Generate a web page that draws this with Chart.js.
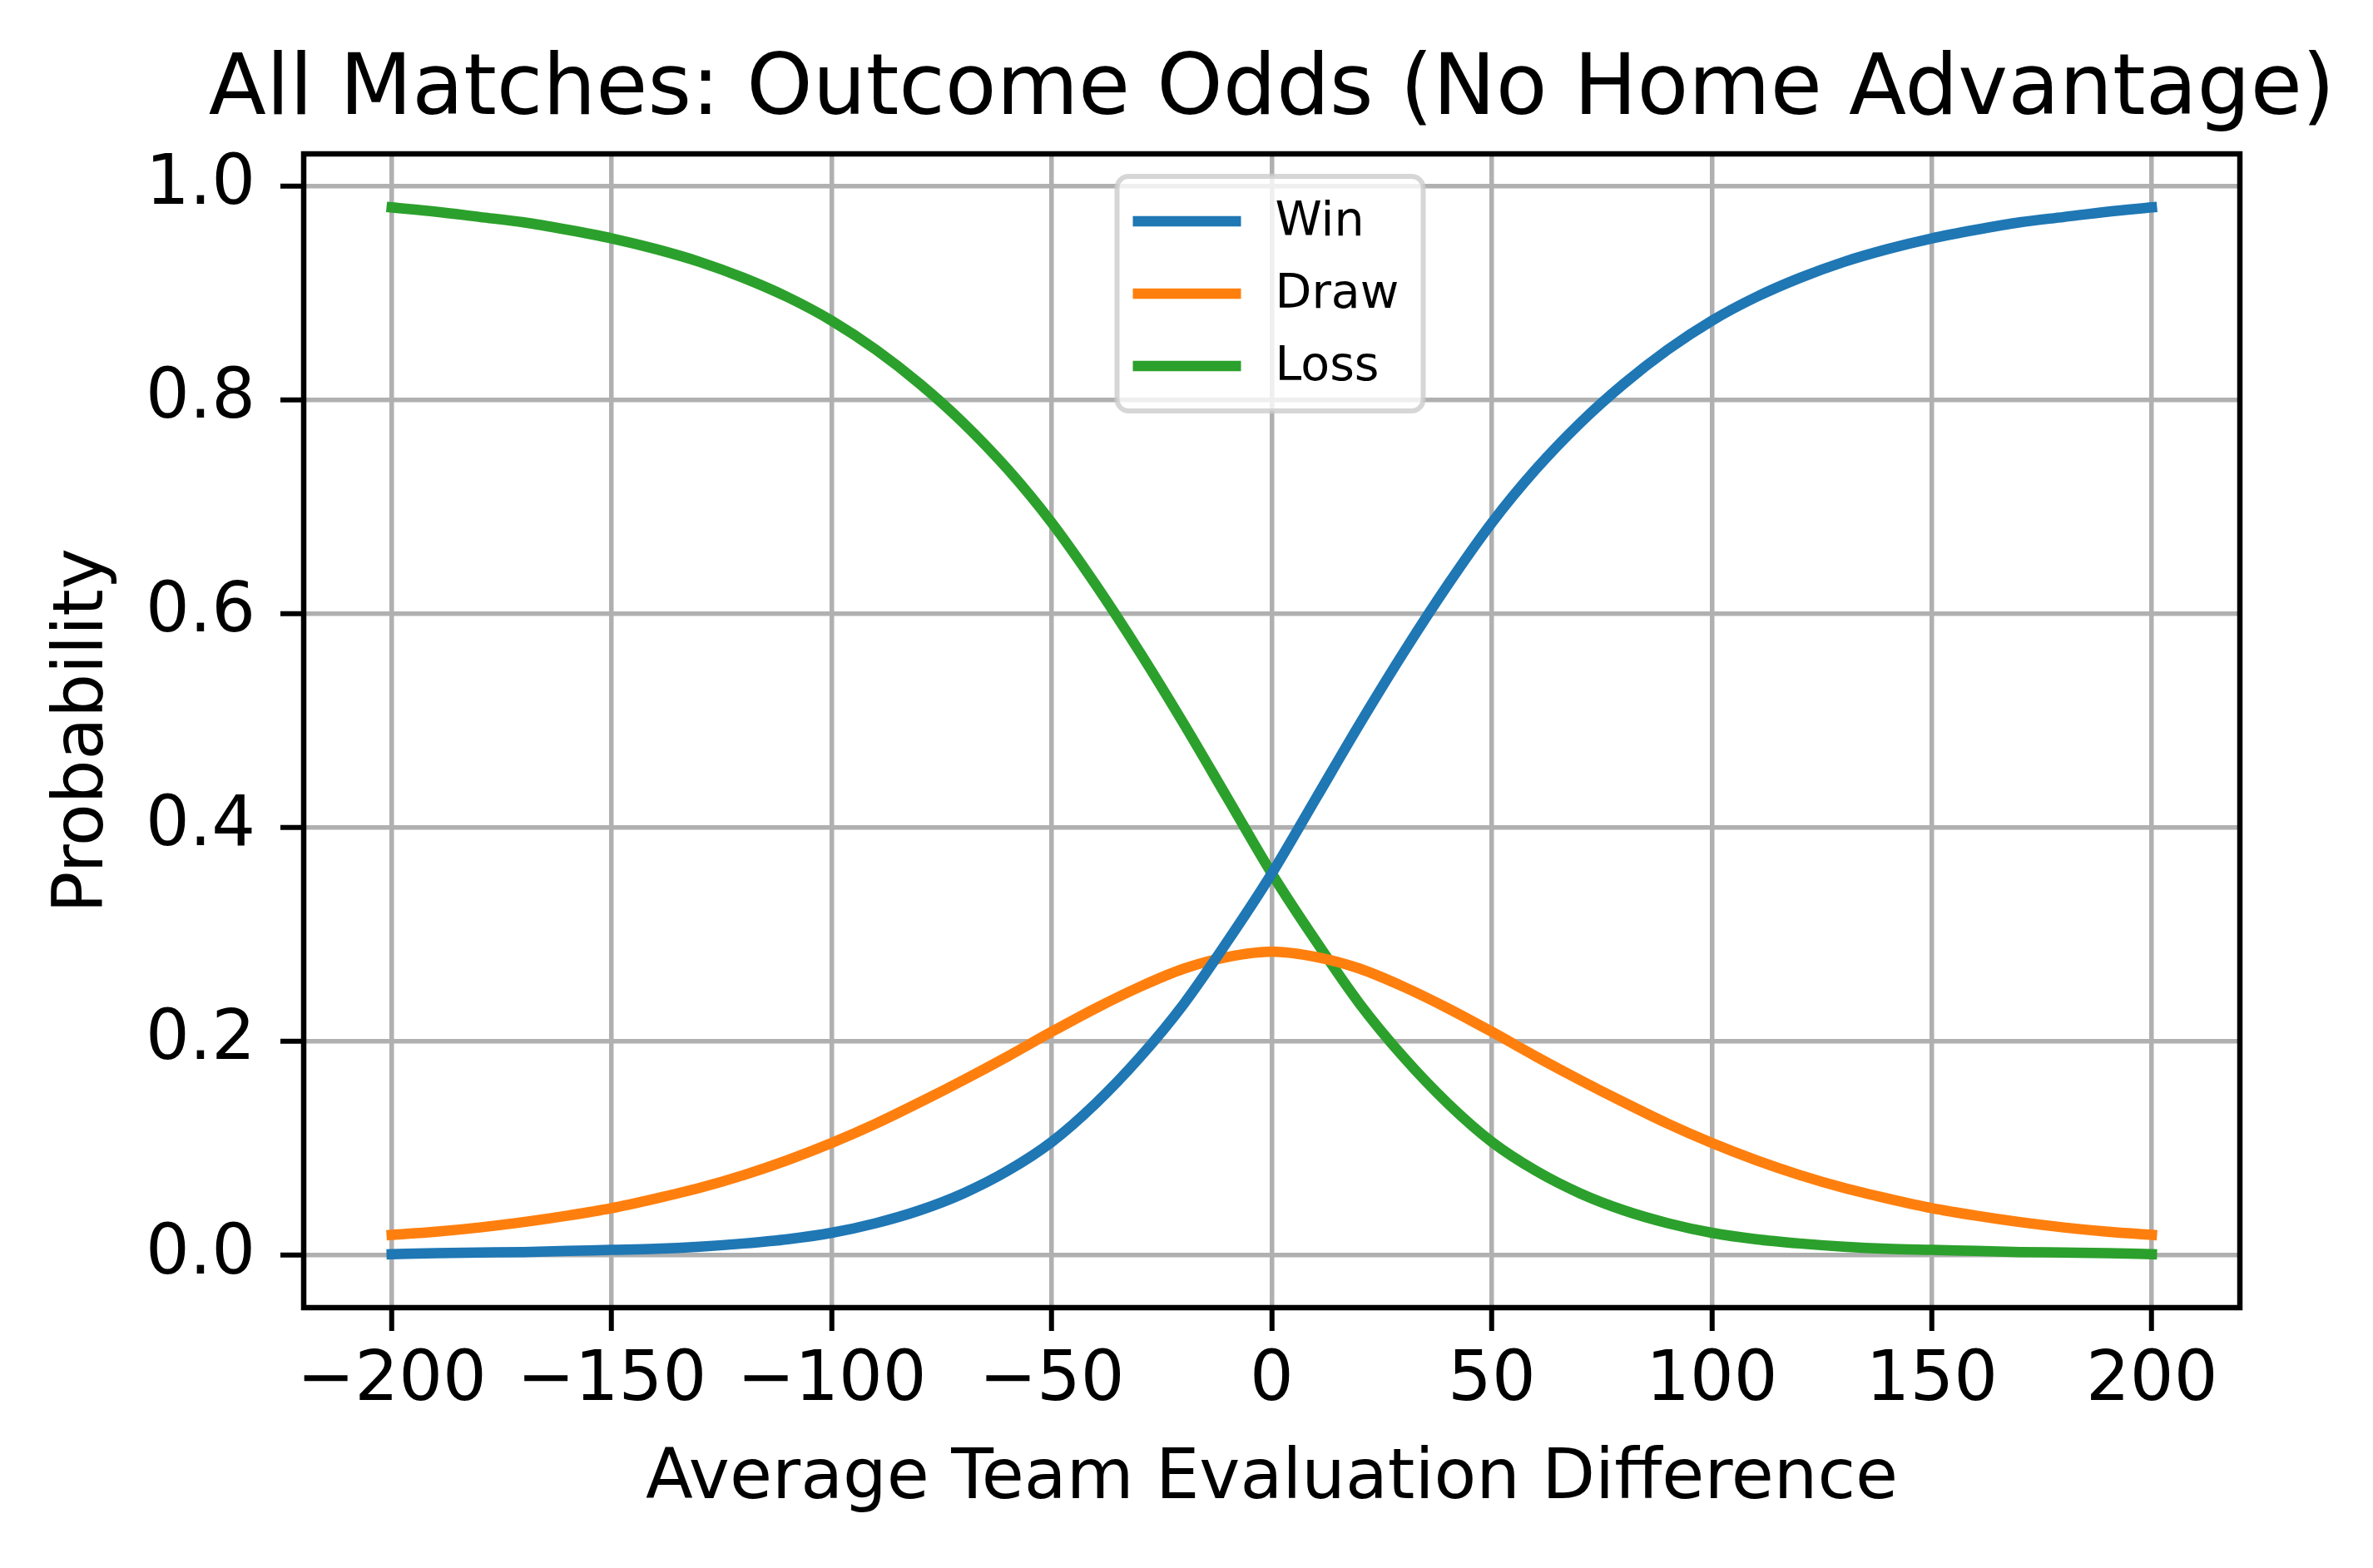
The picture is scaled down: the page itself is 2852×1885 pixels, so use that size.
<!DOCTYPE html>
<html>
<head>
<meta charset="utf-8">
<script src="https://cdn.jsdelivr.net/npm/chart.js@4.4.1/dist/chart.umd.min.js"></script>
<style>
  html, body { margin: 0; padding: 0; background: #fff; }
  canvas { display: block; }
</style>
</head>
<body>
<canvas id="oddsChart" width="2852" height="1885"></canvas>
<script>
// evaluation difference, step 10
var diffs = [-200, -190, -180, -170, -160, -150, -140, -130, -120, -110, -100, -90, -80, -70, -60, -50, -40, -30, -20, -10,
  0, 10, 20, 30, 40, 50, 60, 70, 80, 90, 100, 110, 120, 130, 140, 150, 160, 170, 180, 190, 200];

var winProb = [0.001, 0.002, 0.0025, 0.003, 0.004, 0.005, 0.006, 0.008, 0.011, 0.015, 0.021, 0.030, 0.042, 0.058, 0.079, 0.106, 0.142, 0.185, 0.235, 0.294,
  0.357, 0.427, 0.497, 0.564, 0.627, 0.685, 0.735, 0.778, 0.815, 0.847, 0.874, 0.896, 0.914, 0.929, 0.941, 0.951, 0.959, 0.966, 0.971, 0.976, 0.980];

var drawProb = [0.019, 0.022, 0.026, 0.031, 0.037, 0.044, 0.053, 0.063, 0.075, 0.089, 0.105, 0.123, 0.143, 0.164, 0.186, 0.209, 0.231, 0.251, 0.268, 0.279,
  0.284, 0.279, 0.268, 0.251, 0.231, 0.209, 0.186, 0.164, 0.143, 0.123, 0.105, 0.089, 0.075, 0.063, 0.053, 0.044, 0.037, 0.031, 0.026, 0.022, 0.019];

var lossProb = [0.980, 0.976, 0.971, 0.966, 0.959, 0.951, 0.941, 0.929, 0.914, 0.896, 0.874, 0.847, 0.815, 0.778, 0.735, 0.685, 0.627, 0.564, 0.497, 0.427,
  0.357, 0.294, 0.235, 0.185, 0.142, 0.106, 0.079, 0.058, 0.042, 0.030, 0.021, 0.015, 0.011, 0.008, 0.006, 0.005, 0.004, 0.003, 0.0025, 0.002, 0.001];

var xTicks = [-200, -150, -100, -50, 0, 50, 100, 150, 200];
var xTickLabels = ['\u2212200', '\u2212150', '\u2212100', '\u221250', '0', '50', '100', '150', '200'];
var yTicks = [0, 0.2, 0.4, 0.6, 0.8, 1.0];
var yTickLabels = ['0.0', '0.2', '0.4', '0.6', '0.8', '1.0'];

var chartTitle = 'All Matches: Outcome Odds (No Home Advantage)';

function toPoints(ys) {
  return diffs.map(function (x, i) { return {x: x, y: ys[i]}; });
}

Chart.defaults.font.family = "'DejaVu Sans'";
Chart.defaults.color = '#000';

// title centred over the axes, not squeezed to fit
var axesTitle = {
  id: 'axesTitle',
  afterDraw: function (chart) {
    var a = chart.chartArea, ctx = chart.ctx;
    ctx.save();
    ctx.font = "101px 'DejaVu Sans'";
    ctx.fillStyle = '#000';
    ctx.textAlign = 'center';
    ctx.textBaseline = 'alphabetic';
    ctx.fillText(chartTitle, (a.left + a.right) / 2, a.top - 48);
    ctx.restore();
  }
};

// matplotlib style box around the axes
var framePlugin = {
  id: 'frame',
  afterDatasetsDraw: function (chart) {
    var a = chart.chartArea, ctx = chart.ctx;
    ctx.save();
    ctx.strokeStyle = '#000';
    ctx.lineWidth = 6.5;
    ctx.strokeRect(a.left, a.top, a.right - a.left, a.bottom - a.top);
    ctx.restore();
  }
};

// legend box, upper center inside the axes
var boxLegend = {
  id: 'boxLegend',
  afterDraw: function (chart) {
    var a = chart.chartArea, ctx = chart.ctx;
    var cx = (a.left + a.right) / 2;
    var left = cx - 186, top = a.top + 27, w = 368, h = 282;
    ctx.save();
    ctx.beginPath();
    ctx.roundRect(left, top, w, h, 14);
    ctx.fillStyle = 'rgba(255,255,255,0.8)';
    ctx.fill();
    ctx.lineWidth = 6;
    ctx.strokeStyle = 'rgba(204,204,204,0.8)';
    ctx.stroke();
    ctx.font = "57px 'DejaVu Sans'";
    ctx.textBaseline = 'middle';
    ctx.fillStyle = '#000';
    chart.data.datasets.forEach(function (ds, i) {
      var y = top + 54 + i * 87;
      ctx.beginPath();
      ctx.moveTo(cx - 167, y);
      ctx.lineTo(cx - 37, y);
      ctx.lineWidth = 12.5;
      ctx.strokeStyle = ds.borderColor;
      ctx.stroke();
      ctx.fillText(ds.label, cx + 4, y + 2);
    });
    ctx.restore();
  }
};

var ctx = document.getElementById('oddsChart').getContext('2d');
var oddsChart = new Chart(ctx, {
  type: 'line',
  data: {
    datasets: [
      {label: 'Win', data: toPoints(winProb), borderColor: '#1f77b4'},
      {label: 'Draw', data: toPoints(drawProb), borderColor: '#ff7f0e'},
      {label: 'Loss', data: toPoints(lossProb), borderColor: '#2ca02c'}
    ]
  },
  options: {
    responsive: false,
    devicePixelRatio: 1,
    animation: false,
    elements: {
      line: {borderWidth: 12.5, cubicInterpolationMode: 'monotone', borderCapStyle: 'square', fill: false},
      point: {radius: 0, hoverRadius: 0}
    },
    layout: {
      padding: {left: 0, right: 160, top: 185, bottom: 0}
    },
    plugins: {
      legend: {display: false},
      tooltip: {enabled: false},
      title: {display: false}
    },
    scales: {
      x: {
        type: 'linear',
        min: -220,
        max: 220,
        afterBuildTicks: function (scale) {
          scale.ticks = xTicks.map(function (v) { return {value: v}; });
        },
        afterFit: function (scale) { scale.height = 313; },
        grid: {color: '#b0b0b0', lineWidth: 5.5, tickColor: '#000', tickWidth: 6, tickLength: 28},
        border: {display: false},
        ticks: {
          font: {size: 83},
          padding: 12,
          maxRotation: 0,
          autoSkip: false,
          callback: function (value, index) { return xTickLabels[index]; }
        },
        title: {
          display: true,
          text: 'Average Team Evaluation Difference',
          font: {size: 83},
          padding: {top: 0, bottom: 56}
        }
      },
      y: {
        min: -0.049,
        max: 1.03,
        afterBuildTicks: function (scale) {
          scale.ticks = yTicks.map(function (v) { return {value: v}; });
        },
        afterFit: function (scale) { scale.width = 365; },
        grid: {color: '#b0b0b0', lineWidth: 5.5, tickColor: '#000', tickWidth: 6, tickLength: 28},
        border: {display: false},
        ticks: {
          font: {size: 83},
          padding: 30,
          autoSkip: false,
          callback: function (value, index) { return yTickLabels[index]; }
        },
        title: {
          display: true,
          text: 'Probability',
          font: {size: 83},
          padding: {top: 52, bottom: 0}
        }
      }
    }
  },
  plugins: [framePlugin, boxLegend, axesTitle]
});
</script>
</body>
</html>
